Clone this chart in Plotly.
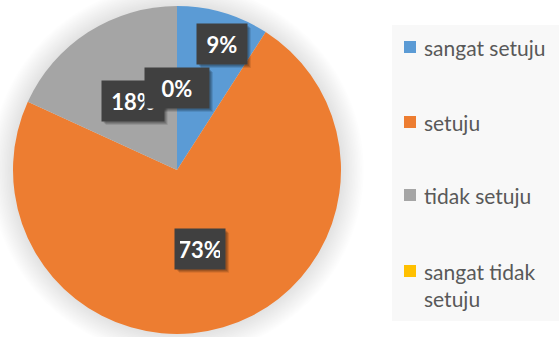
import math
import plotly.graph_objects as go

# Survey responses (counts) and their display labels
categories = ["sangat setuju", "setuju", "tidak setuju", "sangat tidak setuju"]
counts = [1, 8, 2, 0]
colors = ["#5B9BD5", "#ED7D31", "#A5A5A5", "#FFC000"]
legend_text = ["sangat setuju", "setuju", "tidak setuju", "sangat tidak<br>setuju"]

W, H = 559, 337
CX, CY, R = 177, 170, 164  # pie centre / radius in pixels


def px(x):
    return x / W


def py(y):
    return 1 - y / H


fig = go.Figure()
fig.add_trace(go.Pie(
    labels=categories,
    values=counts,
    marker=dict(colors=colors, line=dict(width=0)),
    sort=False,
    direction="clockwise",
    rotation=0,
    textinfo="none",
    hoverinfo="label+percent",
    showlegend=False,
    domain=dict(x=[px(CX - R), px(CX + R)], y=[py(CY + R), py(CY - R)]),
))

shapes = []
# soft halo around the pie
for k in range(14):
    rr = R + 2 + k * 1.6
    shapes.append(dict(
        type="circle", xref="paper", yref="paper", layer="below",
        x0=px(CX - rr), x1=px(CX + rr), y0=py(CY + rr), y1=py(CY - rr),
        fillcolor="rgba(0,0,0,0.008)", line=dict(width=0),
    ))

# percentage labels placed along each slice's mid angle
total = sum(counts)
radial = [0.8, 0.5, 0.5, 0.5]
nudge = [8, 0, 0, 0]
box_w = [40, 40, 52, 54]
PAD, BOX_H = 5, 30
annotations = []
cum = 0
for i, v in enumerate(counts):
    mid = (cum + v / 2) / total * 2 * math.pi
    cum += v
    r = R * radial[i]
    lx = CX + r * math.sin(mid) + nudge[i]
    ly = CY - r * math.cos(mid)
    txt = f"{round(v / total * 100)}%"
    # soft drop shadow behind the label box
    hw = box_w[i] / 2 + PAD
    hh = BOX_H / 2 + PAD
    for off, alpha in [(4, 0.10), (3, 0.14), (2, 0.14)]:
        shapes.append(dict(
            type="rect", xref="paper", yref="paper", layer="above",
            x0=px(lx - hw + off), x1=px(lx + hw + off),
            y0=py(ly + hh + off), y1=py(ly - hh + off),
            fillcolor=f"rgba(0,0,0,{alpha})", line=dict(width=0),
        ))
    annotations.append(dict(
        x=px(lx), y=py(ly), xref="paper", yref="paper", showarrow=False,
        xanchor="center", yanchor="middle",
        text=f"<b>{txt}</b>", font=dict(family="Lato", size=22, color="white"),
        bgcolor="#404040", borderpad=PAD, width=box_w[i], height=BOX_H,
    ))

# legend panel
shapes.append(dict(
    type="rect", xref="paper", yref="paper", layer="below",
    x0=px(392), x1=px(559), y0=py(321), y1=py(25),
    fillcolor="#F8F8F8", line=dict(width=0),
))
legend_y = [47, 122, 195, 271]
for i, name in enumerate(legend_text):
    yc = legend_y[i]
    shapes.append(dict(
        type="rect", xref="paper", yref="paper",
        x0=px(404), x1=px(416), y0=py(yc + 6), y1=py(yc - 6),
        fillcolor=colors[i], line=dict(width=0),
    ))
    annotations.append(dict(
        x=px(422), y=py(yc - 14), xref="paper", yref="paper",
        xanchor="left", yanchor="top", align="left", showarrow=False,
        text=name, font=dict(family="Lato", size=21, color="#595959"),
    ))

fig.update_layout(
    width=W, height=H,
    margin=dict(l=0, r=0, t=0, b=0),
    paper_bgcolor="white",
    plot_bgcolor="white",
    shapes=shapes,
    annotations=annotations,
    showlegend=False,
)

fig.write_html("out.html")
